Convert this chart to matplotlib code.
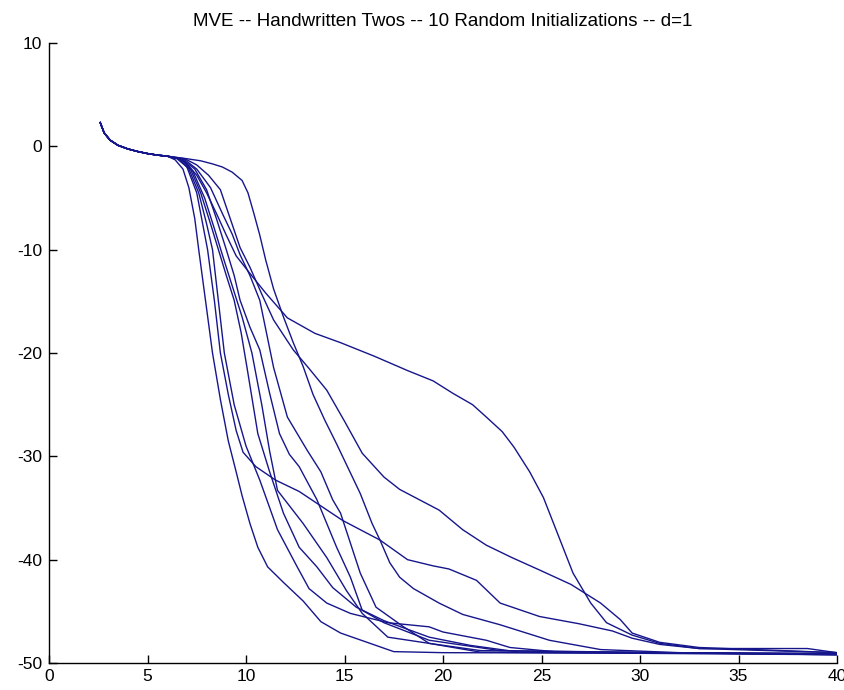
import matplotlib
matplotlib.use("Agg")
import matplotlib.pyplot as plt

# Shared start of every run (all ten runs lie on top of each other here).
head_x = [2.6, 2.8, 3.1, 3.5, 4.0, 4.5, 5.0, 5.5, 6.0]
head_y = [2.3, 1.3, 0.6, 0.1, -0.25, -0.5, -0.7, -0.85, -0.95]

# Remaining part of each run, one list per run.
runs_x = [
    [6.4, 6.8, 7.1, 7.4, 7.6, 7.95, 8.3, 8.7, 9.1, 9.5, 9.8, 10.2, 10.6, 11.1,
     11.9, 12.9, 13.8, 14.8, 16.3, 17.5, 20, 40],
    [6.5, 7.0, 7.5, 8.05, 8.4, 8.7, 9.1, 9.5, 9.85, 10.5, 11.5, 12.7, 13.8, 14.9,
     16.8, 18.2, 19.5, 20.3, 21.7, 22.9, 24.9, 26.9, 28.6, 29.6, 31, 33, 38.5,
     40],
    [6.6, 7.1, 7.6, 8.0, 8.3, 8.6, 8.9, 9.4, 10.0, 10.7, 11.6, 12.6, 13.2, 14.1,
     15.3, 17.2, 19.3, 20, 22.2, 23.4, 25.9, 40],
    [6.7, 7.2, 7.7, 8.2, 8.6, 9.0, 9.4, 9.75, 10.05, 10.6, 11.2, 11.9, 12.7, 13.6,
     14.4, 15.6, 17, 19.3, 21.4, 23.9, 40],
    [6.8, 7.3, 7.9, 8.4, 8.8, 9.3, 9.8, 10.3, 10.8, 11.2, 11.6, 12.9, 14.1, 15.1,
     15.9, 17.2, 19.3, 21.9, 40],
    [6.8, 7.4, 8.0, 8.5, 9.0, 9.4, 9.7, 10.2, 10.7, 11.2, 11.7, 12.2, 12.7, 13.6,
     14.6, 15.3, 15.9, 17, 19.3, 22.9, 40],
    [6.9, 7.5, 8.2, 8.8, 9.3, 9.7, 10.2, 10.7, 11.4, 12.1, 13.1, 13.8, 14.4, 14.8,
     15.3, 15.8, 16.6, 18, 19.3, 21.9, 40],
    [7.0, 7.7, 8.3, 8.8, 9.3, 9.8, 10.1, 10.4, 10.7, 11.0, 11.4, 11.9, 12.4, 12.9,
     13.4, 14.0, 14.6, 15.2, 15.8, 16.4, 16.8, 17.3, 17.8, 18.5, 19.8, 21, 22.9,
     25.4, 28, 32, 40],
    [6.9, 7.5, 8.1, 8.7, 9.2, 9.7, 10.2, 10.8, 11.4, 12.4, 13.2, 14.1, 15.0, 15.9,
     17, 17.8, 18.8, 19.8, 21, 22.2, 23.5, 24.9, 26.5, 28, 29, 29.6, 31, 33, 40],
    [6.6, 7.0, 7.5, 8.0, 8.5, 9.0, 9.5, 10.2, 11.0, 12.1, 13.5, 14.8, 16.5, 18.2,
     19.5, 20.5, 21.5, 22.2, 23.0, 23.6, 24.4, 25.1, 25.8, 26.6, 27.5, 28.3,
     29.6, 31, 33, 40],
]
runs_y = [
    [-1.3, -2.2, -4.0, -7.0, -10, -15, -20, -24.5, -28.5, -31.5, -33.8, -36.5,
     -38.8, -40.7, -42.2, -44, -46, -47.1, -48.1, -48.9, -49.0, -49.1],
    [-1.2, -2.0, -4.5, -10, -15, -20, -24, -27.5, -29.6, -31, -32.3, -33.4, -34.8,
     -36.2, -38.1, -40, -40.6, -40.9, -42, -44.2, -45.5, -46.2, -46.9, -47.6,
     -48.2, -48.6, -48.6, -49.0],
    [-1.2, -2.2, -4.5, -7.5, -10, -15, -20, -25, -29, -32.3, -37.1, -40.7, -42.8,
     -44.2, -45.2, -46.1, -46.5, -47, -47.8, -48.5, -48.95, -49.1],
    [-1.2, -2.3, -4.5, -7.5, -10, -12.5, -14.9, -18, -21.4, -27.8, -31.5, -35.5,
     -38.8, -40.7, -42.7, -44.6, -45.9, -47.5, -48.3, -48.95, -49.1],
    [-1.3, -2.4, -5, -8, -10.5, -13.5, -16.5, -20, -25, -29.5, -33.3, -36.5,
     -39.8, -43, -45.2, -47.5, -48.1, -48.8, -49.2],
    [-1.3, -2.2, -4.2, -7, -10, -12.5, -14.9, -17.5, -19.7, -23.9, -27.8, -29.8,
     -31, -34.2, -38.8, -41.7, -44.9, -46.1, -47.8, -48.8, -49.2],
    [-1.3, -2.2, -4.0, -6.5, -8.5, -10.5, -12.5, -14.9, -21.4, -26.2, -29.4,
     -31.5, -34.2, -35.5, -38.4, -41.3, -44.6, -46.5, -48.1, -48.95, -49.2],
    [-1.2, -1.4, -1.7, -2.0, -2.5, -3.3, -4.5, -6.5, -8.6, -11, -13.8, -16.5, -19,
     -21.3, -24, -26.5, -28.8, -31.2, -33.6, -36.5, -38.1, -40.3, -41.7, -42.8,
     -44.2, -45.3, -46.3, -47.8, -48.7, -49, -49.1],
    [-1.2, -1.8, -2.8, -4.2, -7, -9.8, -11.7, -14.3, -16.8, -19.7, -21.5, -23.6,
     -26.6, -29.7, -32, -33.2, -34.2, -35.2, -37.1, -38.6, -39.8, -41, -42.4,
     -44.2, -45.8, -47.1, -48, -48.5, -49],
    [-1.2, -1.7, -2.8, -4.5, -6.5, -8.6, -10.6, -12.3, -14.2, -16.6, -18.1, -19.0,
     -20.3, -21.7, -22.7, -23.9, -25, -26.2, -27.6, -29.1, -31.5, -34, -37.4,
     -41.3, -44.2, -46.1, -47.3, -48.1, -48.6, -49],
]

x_ticks = [0, 5, 10, 15, 20, 25, 30, 35, 40]
y_ticks = [-50, -40, -30, -20, -10, 0, 10]

title = "MVE -- Handwritten Twos -- 10 Random Initializations -- d=1"

plt.rcParams["font.family"] = ["Liberation Sans", "DejaVu Sans"]
plt.rcParams["axes.unicode_minus"] = False

fig = plt.figure(figsize=(8.44, 6.90), dpi=100)
ax = fig.add_axes([49 / 844, 1 - 663 / 690, 788 / 844, 620 / 690])

for rx, ry in zip(runs_x, runs_y):
    ax.plot(head_x + rx, head_y + ry, color="#16168c", lw=1.0)

ax.set_xlim(0, 40)
ax.set_ylim(-50, 10)
ax.set_xticks(x_ticks)
ax.set_yticks(y_ticks)
ax.tick_params(direction="in", length=6, width=1, labelsize=12.5,
               colors="black")
ax.tick_params(axis="x", pad=4.5)
ax.tick_params(axis="y", pad=5)

ax.spines["top"].set_visible(False)
ax.spines["right"].set_visible(False)
for side in ("left", "bottom"):
    ax.spines[side].set_linewidth(1.0)

ax.set_title(title, fontsize=13.5, pad=12)

fig.savefig("out.png", dpi=100)
